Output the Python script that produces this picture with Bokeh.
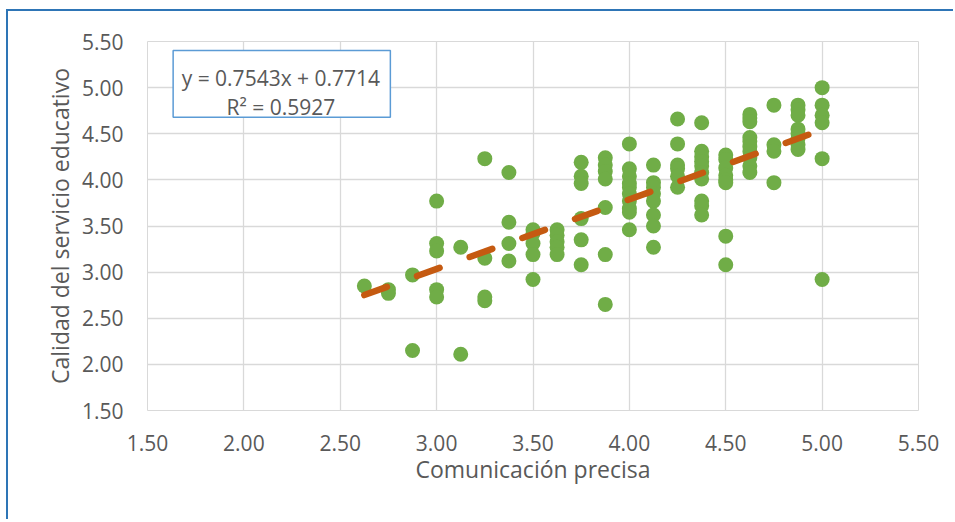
from bokeh.plotting import figure
from bokeh.models import BoxAnnotation, Label, FixedTicker
from bokeh.embed import file_html
from bokeh.resources import INLINE

# ---- data ----
x_values = (
    [2.625]
    + [2.75] * 2
    + [2.875] * 2
    + [3.0] * 5
    + [3.125] * 2
    + [3.25] * 4
    + [3.375] * 4
    + [3.5] * 5
    + [3.625] * 5
    + [3.75] * 6
    + [3.875] * 7
    + [4.0] * 10
    + [4.125] * 8
    + [4.25] * 6
    + [4.375] * 10
    + [4.5] * 8
    + [4.625] * 10
    + [4.75] * 4
    + [4.875] * 8
    + [5.0] * 6
)
y_values = (
    [2.85]
    + [2.81, 2.77]
    + [2.97, 2.15]
    + [3.77, 3.31, 3.23, 2.81, 2.73]
    + [3.27, 2.11]
    + [4.23, 3.15, 2.73, 2.69]
    + [4.08, 3.54, 3.31, 3.12]
    + [3.46, 3.42, 3.31, 3.19, 2.92]
    + [3.46, 3.40, 3.33, 3.27, 3.19]
    + [4.19, 4.04, 3.96, 3.58, 3.35, 3.08]
    + [4.24, 4.16, 4.09, 4.01, 3.70, 3.19, 2.65]
    + [4.39, 4.12, 4.04, 3.96, 3.92, 3.85, 3.77, 3.69, 3.65, 3.46]
    + [4.16, 3.97, 3.92, 3.85, 3.77, 3.62, 3.50, 3.27]
    + [4.66, 4.39, 4.16, 4.12, 4.04, 3.92]
    + [4.62, 4.31, 4.25, 4.20, 4.15, 4.08, 4.01, 3.77, 3.72, 3.62]
    + [4.27, 4.22, 4.13, 4.05, 4.00, 3.97, 3.39, 3.08]
    + [4.71, 4.67, 4.63, 4.46, 4.42, 4.36, 4.31, 4.24, 4.15, 4.08]
    + [4.81, 4.38, 4.31, 3.97]
    + [4.81, 4.76, 4.70, 4.55, 4.50, 4.45, 4.38, 4.33]
    + [5.00, 4.81, 4.70, 4.62, 4.23, 2.92]
)
slope = 0.7543
intercept = 0.7714
r_squared = 0.5927
equation_lines = ["y = 0.7543x + 0.7714", "R² = 0.5927"]
x_ticks = [1.5, 2.0, 2.5, 3.0, 3.5, 4.0, 4.5, 5.0, 5.5]
x_tick_labels = ["1.50", "2.00", "2.50", "3.00", "3.50", "4.00", "4.50", "5.00", "5.50"]
y_ticks = [1.5, 2.0, 2.5, 3.0, 3.5, 4.0, 4.5, 5.0, 5.5]
y_tick_labels = ["1.50", "2.00", "2.50", "3.00", "3.50", "4.00", "4.50", "5.00", "5.50"]
x_title = "Comunicación precisa"
y_title = "Calidad del servicio educativo"

FONT = "Open Sans"
TXT = "#595959"
GRID = "#D9D9D9"

p = figure(
    width=947, height=510,
    x_range=(1.5, 5.5), y_range=(1.5, 5.5),
    output_backend="svg", toolbar_location=None,
    min_border_left=139, min_border_right=37,
    min_border_top=30, min_border_bottom=111,
)
p.styles = {
    "margin-left": "6px", "margin-top": "9px",
    "border-left": "2px solid #2E75B6", "border-top": "2px solid #2E75B6",
}
p.background_fill_color = "white"
p.border_fill_color = "white"
p.outline_line_color = GRID

p.xaxis.ticker = FixedTicker(ticks=x_ticks)
p.yaxis.ticker = FixedTicker(ticks=y_ticks)
p.xaxis.major_label_overrides = {t: l for t, l in zip(x_ticks, x_tick_labels)}
p.yaxis.major_label_overrides = {t: l for t, l in zip(y_ticks, y_tick_labels)}
p.xgrid.ticker = FixedTicker(ticks=x_ticks)
p.ygrid.ticker = FixedTicker(ticks=y_ticks)
p.grid.grid_line_color = GRID
p.grid.grid_line_width = 1.3

for ax in (p.xaxis, p.yaxis):
    ax.axis_line_color = None
    ax.major_tick_line_color = None
    ax.minor_tick_line_color = None
    ax.major_tick_out = 0
    ax.major_tick_in = 0
    ax.major_label_text_font = FONT
    ax.major_label_text_font_size = "21px"
    ax.major_label_text_color = TXT
    ax.axis_label_text_font = FONT
    ax.axis_label_text_font_size = "23px"
    ax.axis_label_text_color = TXT
    ax.axis_label_text_font_style = "normal"

p.xaxis.axis_label = x_title
p.yaxis.axis_label = y_title
p.xaxis.major_label_standoff = 24
p.yaxis.major_label_standoff = 24
p.xaxis.axis_label_standoff = -1
p.yaxis.axis_label_standoff = 3

# points
p.scatter(x_values, y_values, size=15, fill_color="#70AD47", line_color=None)

# linear trendline from the equation, over the data's x span
x0, x1 = min(x_values), max(x_values)
p.line([x0, x1], [slope * x0 + intercept, slope * x1 + intercept],
       line_color="#C55A11", line_width=6.5, line_dash="24 32", line_cap="round")

# equation box
p.add_layout(BoxAnnotation(left=1.633, right=2.760, bottom=4.679, top=5.402,
                           fill_color="white", fill_alpha=1.0,
                           line_color="#5B9BD5", line_width=1.5, line_alpha=1.0,
                           level="overlay"))
p.add_layout(Label(x=2.192, y=5.106, text=equation_lines[0], text_align="center",
                   text_baseline="alphabetic", text_font=FONT, text_font_size="21px",
                   text_color=TXT, level="overlay"))
p.add_layout(Label(x=2.192, y=4.795, text=equation_lines[1], text_align="center",
                   text_baseline="alphabetic", text_font=FONT, text_font_size="21px",
                   text_color=TXT, level="overlay"))

open("out.html", "w").write(file_html(p, INLINE))
